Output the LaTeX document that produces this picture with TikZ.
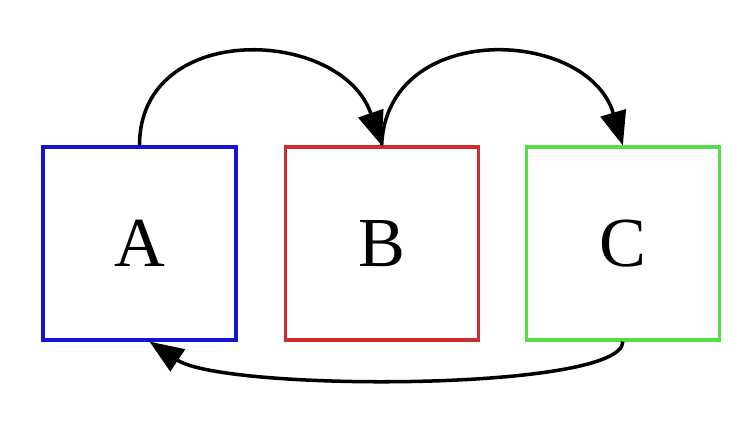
\documentclass[tikz,border=0pt]{standalone}
\usepackage{fontspec}
\setmainfont{Liberation Serif}
\usepackage{xcolor}
\usepackage{tikz}
\usetikzlibrary{
  arrows.meta,
  positioning
}
\definecolor{boxblue}{RGB}{20,20,215}
\definecolor{boxred}{RGB}{205,45,45}
\definecolor{boxgreen}{RGB}{85,220,70}

\begin{document}
\begin{tikzpicture}[
    state/.style={draw, line width=0.9pt, minimum size=1.93cm, inner sep=0pt,
      font=\fontsize{20}{24}\selectfont},
    edge/.style={-{Triangle[length=3.4mm,width=2.6mm]}, line width=1pt}
  ]
  \useasboundingbox (0,0) rectangle (7.4,4.34);
  % the three states
  \node[state, boxblue] (A) at (1.395,1.905) {\color{black}\raisebox{-0.5mm}{A}};
  \node[state, boxred, right=0.46cm of A] (B) {\color{black}\raisebox{-0.5mm}{B}};
  \node[state, boxgreen, right=0.45cm of B] (C) {\color{black}\raisebox{-0.5mm}{C}};
  % transitions
  \draw[edge] (A.north) .. controls +(0,1.26) and +(-0.4,1.18) .. (B.north);
  \draw[edge] (B.north) .. controls +(0.05,1.26) and +(-0.35,1.18) .. (C.north);
  \draw[edge] (C.south) .. controls +(0,-0.5) and +(0.75,-0.5) .. ([xshift=0.1cm]A.south);
\end{tikzpicture}
\end{document}
